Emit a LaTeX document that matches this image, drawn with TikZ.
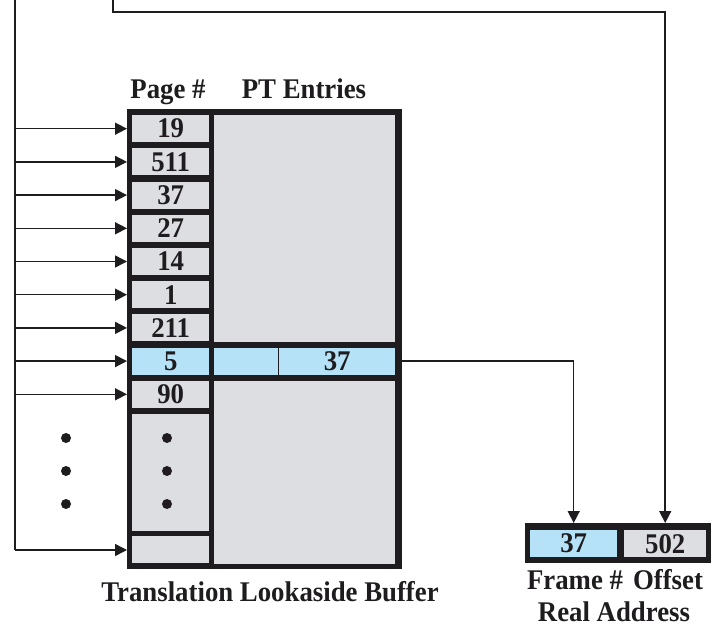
\documentclass[tikz,border=0pt]{standalone}
\usepackage{fontspec}
\setmainfont[FakeStretch=0.94]{Liberation Serif}
\usetikzlibrary{arrows.meta}
\definecolor{cellgray}{RGB}{221,222,225}
\definecolor{cellblue}{RGB}{182,226,247}
\definecolor{ink}{RGB}{30,28,30}
\tikzset{
  txt/.style={font=\fontsize{28.5}{30}\selectfont\bfseries, text=ink, inner sep=0pt},
  pcell/.style={txt, fill=cellgray, minimum width=77pt, minimum height=27pt, anchor=north west},
  arr/.style={draw=ink, line width=1.5pt, -{Triangle[length=12pt,width=12pt]}},
  wire/.style={draw=ink, line width=1.5pt},
  dot/.style={circle, fill=ink, inner sep=0pt, minimum size=10pt},
}
\begin{document}
\begin{tikzpicture}[x=1pt,y=-1pt]
\useasboundingbox (0,0) rectangle (720,628);
% TLB frame
\node[fill=ink, minimum width=275pt, minimum height=460pt, anchor=north west, inner sep=0pt] (tlb) at (127,109) {};
% page cells
\foreach \v [count=\k from 0] in {19,511,37,27,14,1,211} {
  \node[pcell] (p\k) at (132,{115+33.2*\k}) {\v};
}
\node[pcell, fill=cellblue] (p7) at (132,347.4) {5};
\node[pcell] (p8) at (132,380.6) {90};
\node[pcell, minimum height=117pt] (pdots) at (132,413.8) {};
\node[pcell] (plast) at (132,536) {};
% PT entries
\node[pcell, minimum width=181pt, minimum height=226.4pt] (ptA) at (214,115) {};
\node[pcell, fill=cellblue, minimum width=64pt] (ptB1) at (214,347.4) {};
\node[pcell, fill=cellblue, minimum width=116pt] (ptB2) at (279,347.4) {37};
\draw[ink, line width=1.6pt] (ptB1.north east) -- (ptB1.south east);
\node[pcell, minimum width=181pt, minimum height=183.6pt] (ptC) at (214,380.4) {};
% dots
\foreach \yy in {438,471,504} {
  \node[dot] at (66,\yy) {};
  \node[dot] at (167,\yy) {};
}
% headers
\node[txt, anchor=base] (hpage) at (168,99) {Page \#};
\node[txt, anchor=base] (hpt) at (304,99) {PT Entries};
\node[txt, anchor=base] (htlb) at (270,601) {Translation Lookaside Buffer};
% real address
\node[fill=ink, minimum width=186pt, minimum height=40pt, anchor=north west, inner sep=0pt] (ra) at (525,523) {};
\node[pcell, fill=cellblue, minimum width=87pt] (frame) at (530,530) {37};
\node[pcell, minimum width=82pt] (off) at (624,530) {502};
\node[txt, anchor=base] (lframe) at (575,589) {Frame \#};
\node[txt, anchor=base] (loff) at (668,589) {Offset};
\node[txt, anchor=base] (lra) at (614,621) {Real Address};
% left bus
\coordinate (bustop) at (15,0);
\coordinate (busbot) at (15,550);
\draw[wire] (bustop) -- (busbot);
\foreach \k in {0,...,8} {
  \draw[arr] (bustop|-p\k.west) -- (tlb.west|-p\k.west);
}
\draw[arr] (busbot) -- (tlb.west|-busbot);
% offset line
\coordinate (offtop) at (113,0);
\coordinate (offbend) at (113,12);
\draw[arr] (offtop) -- (offbend) -- (off.north|-offbend) -- (ra.north-|off.north);
% frame line
\draw[arr] (tlb.east|-ptB2.east) -- (frame.north|-ptB2.east) -- (ra.north-|frame.north);
\end{tikzpicture}
\end{document}
